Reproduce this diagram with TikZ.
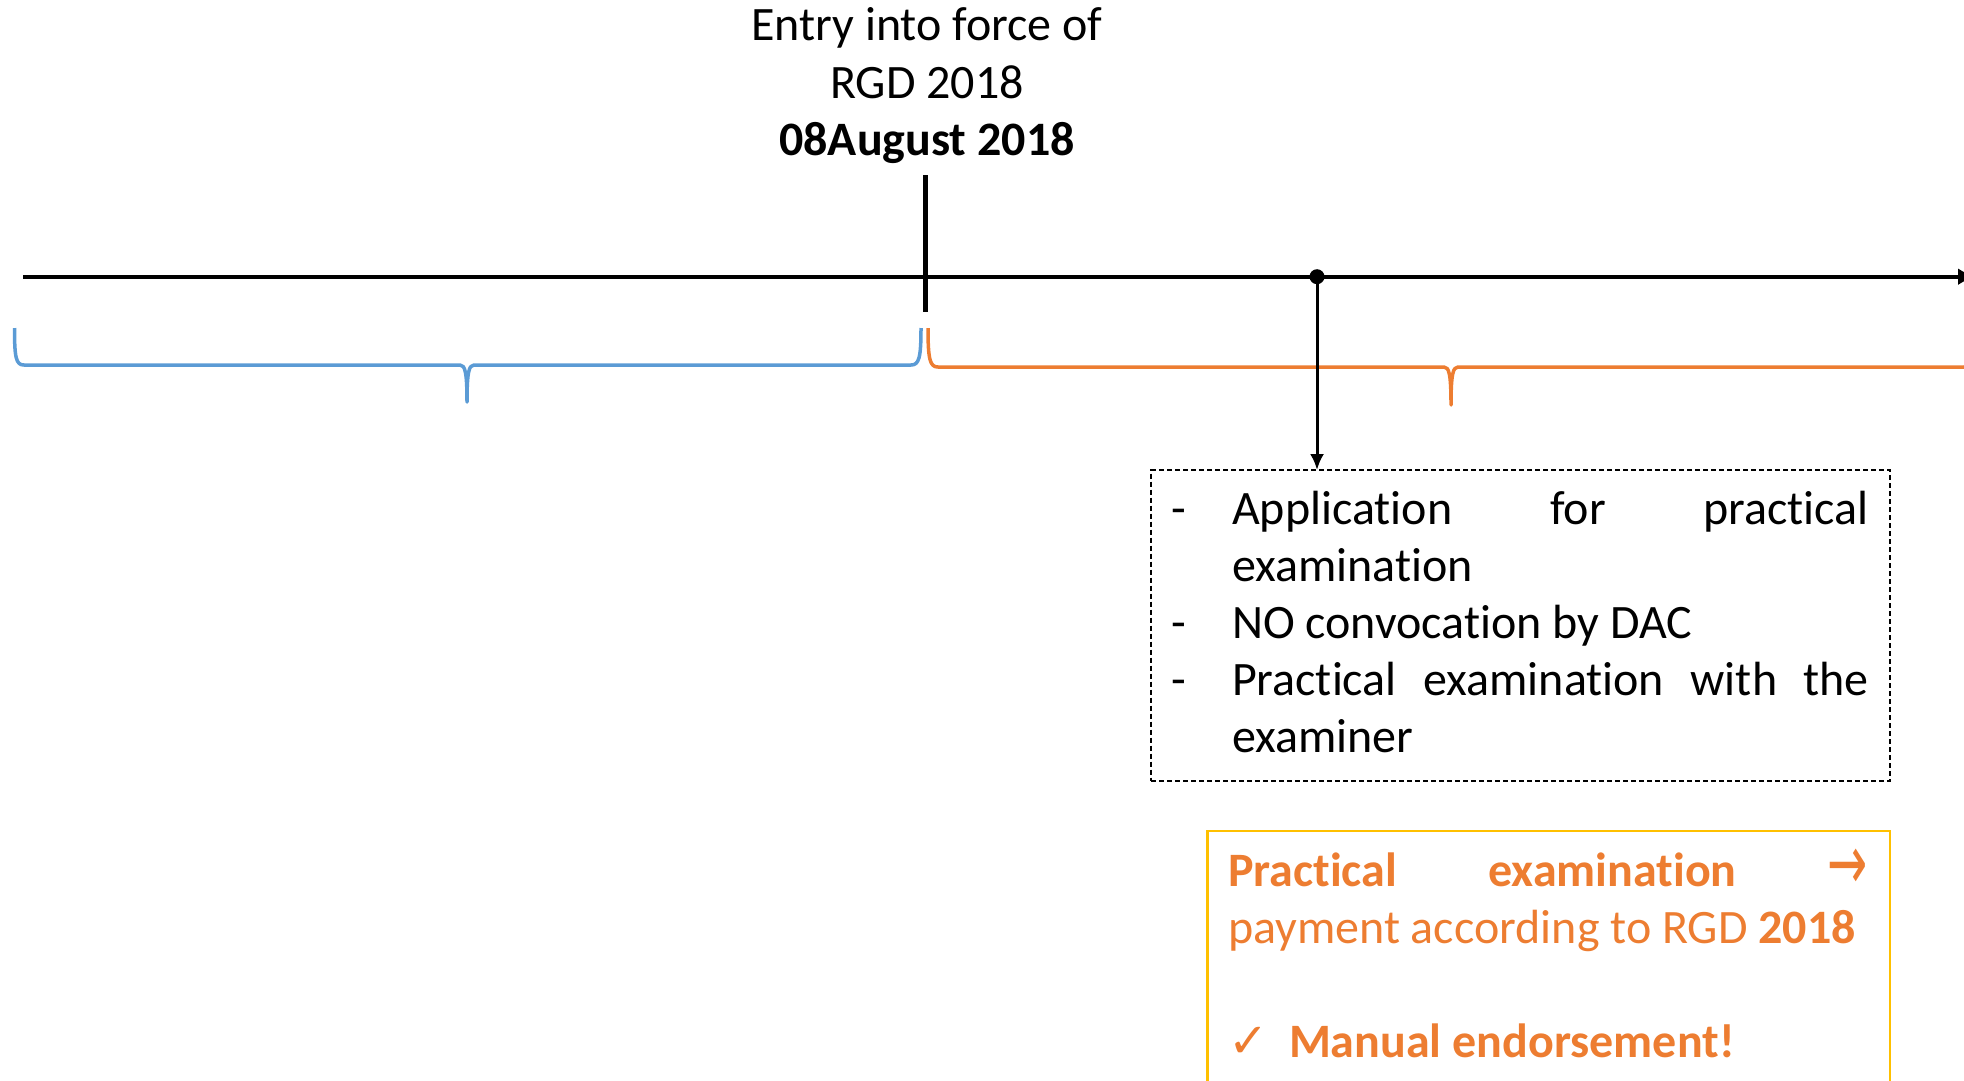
\documentclass[tikz,border=0pt]{standalone}
\usepackage{fontspec}
\usepackage{graphicx}
\setmainfont{Carlito}[Ligatures=NoCommon]
\newfontfamily\symfont{DejaVu Sans}
\usetikzlibrary{arrows.meta}
\definecolor{eraBlue}{HTML}{5B9BD5}
\definecolor{eraOrange}{HTML}{ED7D31}
\definecolor{eraYellow}{HTML}{FFC000}

\begin{document}
\begin{tikzpicture}[x=1pt,y=-1pt,
  txt/.style={inner sep=0pt, outer sep=0pt, font=\fontsize{48}{58}\selectfont},
  ln/.style={txt, anchor=base west},
  brace/.style={line width=3.5pt, line join=round},
  stepbox/.style={draw, line width=2pt, dash pattern=on 5pt off 3pt,
    inner sep=0pt, outer sep=0pt},
  paybox/.style={draw=eraYellow, line width=2.5pt, inner sep=0pt, outer sep=0pt},
  dotnode/.style={circle, fill=black, inner sep=0pt, outer sep=0pt, minimum size=15pt}]

\useasboundingbox (0,0) rectangle (1964,1081);
\clip (0,0) rectangle (1964,1081);

% heading of the milestone
\node[txt, anchor=base] (t1) at (927,41) {Entry into force of};
\node[txt, anchor=base] (t2) at (927,98) {RGD 2018};
\node[txt, anchor=base] (t3) at (927,155) {\bfseries 08August 2018};

% time axis
\coordinate (axisStart) at (23,276.7);
\coordinate (axisEnd) at (1976,276.7);
\draw[line width=4pt, -{Latex[length=18pt,width=17pt]}] (axisStart) -- (axisEnd);

% milestone tick
\coordinate (tickTop) at (925.5,175);
\coordinate (tickBot) at (925.5,311.7);
\draw[line width=5.5pt] (tickTop) -- (tickBot);

% period braces
\draw[brace, eraBlue] (14.5,328) .. controls (14.5,358) and (16,365) .. (24,365)
  -- (460,365) .. controls (465,365) and (467,372) .. (467,402)
  .. controls (467,372) and (469,365) .. (474,365)
  -- (911,365) .. controls (919,365) and (921,358) .. (921,328);
\draw[brace, eraOrange] (928,328) .. controls (928,360) and (930,367) .. (938,367)
  -- (1444,367) .. controls (1449,367) and (1451,374) .. (1451,405)
  .. controls (1451,374) and (1453,367) .. (1458,367)
  -- (1964,367) .. controls (1972,367) and (1974,360) .. (1974,328);

% event on the axis and its procedure
\node[dotnode] (ev) at (1317,276.7) {};
\node[stepbox, minimum width=739pt, minimum height=310.5pt] (steps) at (1520.5,625.3) {};
\draw[line width=3pt, -{Latex[length=16pt,width=14pt]}] (ev.center) -- (steps.north -| ev);

\node[ln] (d1) at (1171,524) {-};
\node[ln] (s1) at (1232,524) {\makebox[637pt][s]{Application for practical}};
\node[ln] (s1b) at (1232,581) {examination};
\node[ln] (d2) at (1171,638) {-};
\node[ln] (s2) at (1232,638) {NO convocation by DAC};
\node[ln] (d3) at (1171,695) {-};
\node[ln] (s3) at (1232,695) {\makebox[637pt][s]{Practical examination with the}};
\node[ln] (s3b) at (1232,752) {examiner};

% payment note
\node[paybox, anchor=north west, minimum width=682.5pt, minimum height=400pt] (pay) at (1207.5,831) {};
\node[ln, text=eraOrange] (p1) at (1228,886)
  {\makebox[640pt][s]{\bfseries Practical examination {\normalfont\symfont\raisebox{-3pt}{\scalebox{1}[1.6]{→}}}}};
\node[ln, text=eraOrange] (p2) at (1228,943) {payment according to RGD \textbf{2018}};
\node[ln, text=eraOrange] (chk) at (1228,1057) {\symfont ✓};
\node[ln, text=eraOrange] (p3) at (1289,1057) {\bfseries Manual endorsement!};

\end{tikzpicture}
\end{document}
